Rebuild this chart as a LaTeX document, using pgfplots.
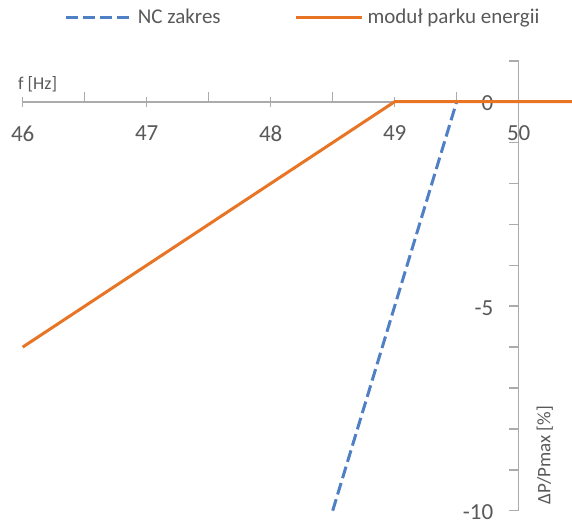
\documentclass[border=0pt]{standalone}
\usepackage{fontspec}
\setmainfont{Carlito}
\usepackage{pgfplots}
\pgfplotsset{compat=1.18}
\definecolor{ncblue}{HTML}{4F7FC4}
\definecolor{orng}{HTML}{E87526}
\definecolor{axgray}{HTML}{ABABAB}
\definecolor{txtgray}{HTML}{595959}
\begin{document}
\begin{tikzpicture}
\begin{axis}[
  x=62pt, y=20.45pt,
  xmin=46, xmax=50, ymin=-10, ymax=1,
  axis x line=middle, axis y line=right,
  axis line style={-, axgray, line width=0.8pt},
  clip=false,
  hide obscured x ticks=false, hide obscured y ticks=false,
  xtick={46,47,48,49,50}, xticklabels={46,47,48,49,50},
  minor xtick={46.5,47.5,48.5,49.5},
  ytick={-10,-5,0}, yticklabels={-10,-5,0},
  minor ytick={-9,-8,-7,-6,-4,-3,-2,-1,1},
  tick align=inside,
  major tick length=5pt, minor tick length=5pt,
  tick style={axgray, line width=0.8pt},
  major x tick style={yshift=-2.8pt},
  xticklabel style={font=\fontsize{11.5}{13}\selectfont, text=txtgray, anchor=north, yshift=-8.5pt},
  yticklabel style={font=\fontsize{11.5}{13}\selectfont, text=txtgray, anchor=east, inner sep=0pt, xshift=-12.5pt, yshift=-0.8pt},
  legend style={at={(axis cs:48.27,2.05)}, anchor=center, draw=none, fill=none,
    legend columns=2, font=\fontsize{10.5}{12}\selectfont, text=txtgray,
    /tikz/every even column/.append style={column sep=35pt}},
  legend image code/.code={\draw[#1] (0pt,0pt) -- (33pt,0pt);},
]
\addplot[ncblue, line width=1.5pt, dash pattern=on 6pt off 2.5pt] coordinates {(48.5,-10) (49.5,0)};
\addlegendentry{NC zakres}
\addplot[orng, line width=1.5pt] coordinates {(46,-6) (49,0) (50.43,0)};
\addlegendentry{moduł parku energii}
\node[anchor=base west, inner sep=0pt, text=txtgray, font=\fontsize{9}{10}\selectfont] at (axis cs:45.96,0.31) {f [Hz]};
\node[rotate=90, anchor=center, inner sep=0pt, text=txtgray, font=\fontsize{9.5}{10}\selectfont] at (axis cs:50.21,-8.64) {ΔP/Pmax [\%]};
\coordinate (BL) at (axis cs:45.817,-10.29);
\coordinate (TR) at (axis cs:50.43,2.487);
\end{axis}
\pgfresetboundingbox
\path[use as bounding box] (BL) rectangle (TR);
\end{tikzpicture}
\end{document}
